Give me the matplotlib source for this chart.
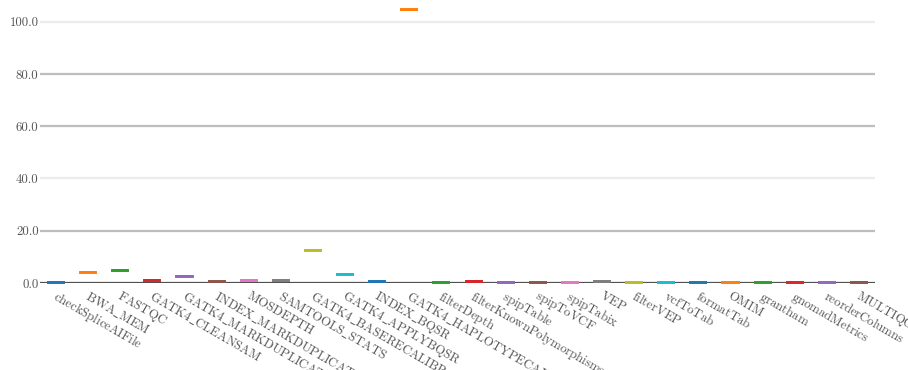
import matplotlib
matplotlib.use("Agg")
import matplotlib.pyplot as plt
import matplotlib.transforms as mtransforms

# Per-process summary of the metric (box quartiles and median)
processes = [
    "checkSpliceAIFile", "BWA_MEM", "FASTQC", "GATK4_CLEANSAM",
    "GATK4_MARKDUPLICATES", "INDEX_MARKDUPLICATES", "MOSDEPTH",
    "SAMTOOLS_STATS", "GATK4_BASERECALIBRATOR", "GATK4_APPLYBQSR",
    "INDEX_BQSR", "GATK4_HAPLOTYPECALLER", "filterDepth",
    "filterKnownPolymorphisms", "spipTable", "spipToVCF", "spipTabix",
    "VEP", "filterVEP", "vcfToTab", "formatTab", "OMIM", "grantham",
    "gnomadMetrics", "reorderColumns", "MULTIQC",
]
medians = [0.1, 4.1, 4.9, 1.0, 2.6, 0.4, 1.0, 1.1, 12.5, 3.3,
           0.4, 104.5, 0.1, 0.6, 0.3, 0.1, 0.1, 0.6, 0.1, 0.1,
           0.1, 0.1, 0.1, 0.1, 0.1, 0.3]
q1 = [0.0, 3.9, 4.7, 0.8, 2.4, 0.2, 0.8, 0.9, 12.3, 3.1,
      0.2, 104.3, 0.0, 0.4, 0.1, 0.0, 0.0, 0.4, 0.0, 0.0,
      0.0, 0.0, 0.0, 0.0, 0.0, 0.1]
q3 = [0.2, 4.3, 5.1, 1.2, 2.8, 0.6, 1.2, 1.3, 12.7, 3.5,
      0.6, 104.7, 0.2, 0.8, 0.5, 0.2, 0.2, 0.8, 0.2, 0.2,
      0.2, 0.2, 0.2, 0.2, 0.2, 0.5]
ytick_values = [0, 20, 40, 60, 80, 100]
ytick_labels = ["0.0", "20.0", "40.0", "60.0", "80.0", "100.0"]

palette = ["#1f77b4", "#ff7f0e", "#2ca02c", "#d62728", "#9467bd",
           "#8c564b", "#e377c2", "#7f7f7f", "#bcbd22", "#17becf"]

plt.rcParams["font.family"] = ["cmr10", "DejaVu Serif"]
plt.rcParams["mathtext.fontset"] = "cm"
plt.rcParams["axes.formatter.use_mathtext"] = True


def roman(name):
    # Computer Modern roman via mathtext so that underscores render properly
    return r"$\mathrm{" + name.replace("_", r"\_") + "}$"


W, H = 908, 370
fig = plt.figure(figsize=(W / 100, H / 100), dpi=100)
ax = fig.add_axes([40 / W, (H - 283) / H, (875 - 40) / W, (283 - 6) / H])

ax.set_xlim(-0.5, len(processes) - 0.5)
ax.set_ylim(0, 106)

# horizontal grid
grid_colors = {20: "#bdbdbd", 40: "#ececec", 60: "#bdbdbd",
               80: "#bdbdbd", 100: "#ececec"}
for v, c in grid_colors.items():
    ax.axhline(v, color=c, lw=1.6, zorder=1)
ax.axhline(0, color="#505050", lw=1.6, zorder=2)

for i, name in enumerate(processes):
    col = palette[i % len(palette)]
    stats = [dict(med=medians[i], q1=q1[i], q3=q3[i],
                  whislo=q1[i], whishi=q3[i], fliers=[])]
    ax.bxp(stats, positions=[i], widths=0.5, patch_artist=True,
           showcaps=False, manage_ticks=False,
           boxprops=dict(facecolor=col, edgecolor=col, linewidth=1.4),
           medianprops=dict(color=col, linewidth=1.4),
           whiskerprops=dict(color=col, linewidth=1.4))
    for art in ax.patches[-1:]:
        art.set_zorder(3)
        art.set_clip_on(False)

for s in ax.spines.values():
    s.set_visible(False)

ax.set_yticks(ytick_values)
ax.set_yticklabels(ytick_labels)
ax.tick_params(axis="y", length=0, pad=1, labelsize=9.2, labelcolor="#555555")

ax.set_xticks(range(len(processes)))
ax.set_xticklabels([roman(p) for p in processes], rotation=-30, ha="left",
                   va="top", rotation_mode="anchor")
ax.tick_params(axis="x", length=0, pad=4, labelsize=9.2, labelcolor="#555555")
shift = mtransforms.ScaledTranslation(2 / 100, 0, fig.dpi_scale_trans)
for lbl in ax.get_xticklabels():
    lbl.set_transform(lbl.get_transform() + shift)

fig.savefig("out.png", dpi=100, facecolor="white")
